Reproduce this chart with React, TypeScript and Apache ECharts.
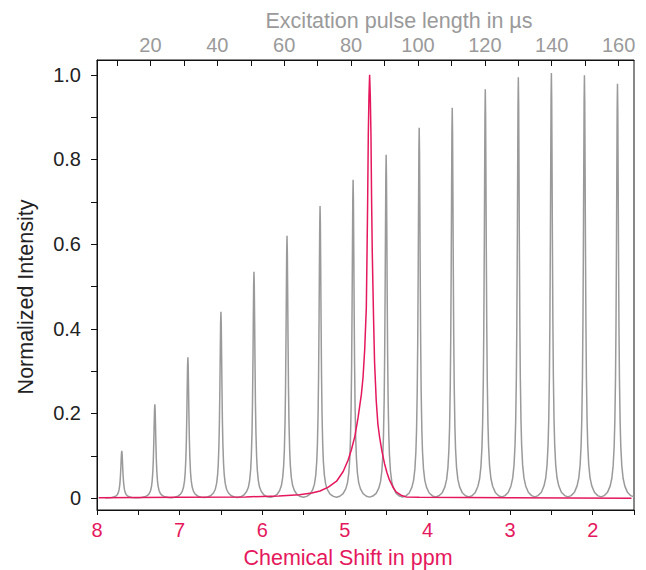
import React, { useEffect, useRef } from "react";
import * as echarts from "echarts";

// ---- data ----
// gray spectra (one peak per excitation pulse length, 10 … 160 µs)
const GRAY_PEAK_PPM = [7.7, 7.3, 6.9, 6.5, 6.1, 5.7, 5.3, 4.9, 4.5, 4.1, 3.7, 3.3, 2.9, 2.5, 2.1, 1.7];
const GRAY_PEAK_HEIGHT = [0.112, 0.222, 0.333, 0.44, 0.535, 0.62, 0.69, 0.752, 0.811, 0.875, 0.922, 0.966, 0.994, 1.004, 0.999, 0.979];
// line shape of one gray peak (offset from centre in ppm, fraction of peak height)
const SHAPE_OFFSET = [0, 0.004, 0.008, 0.012, 0.018, 0.024, 0.032, 0.04, 0.052, 0.068, 0.089, 0.121, 0.161, 0.2];
const SHAPE_LEVEL = [1, 0.935, 0.783, 0.616, 0.416, 0.286, 0.184, 0.126, 0.079, 0.048, 0.029, 0.014, 0.006, 0.003];

// pink reference spectrum
const PINK_PPM = [7.98, 7.0, 6.2, 5.8, 5.55, 5.4, 5.3, 5.2, 5.1, 5.02, 4.96, 4.92, 4.88, 4.84, 4.8, 4.78, 4.76, 4.74, 4.732, 4.724, 4.716, 4.708, 4.7, 4.692, 4.684, 4.676, 4.668, 4.66, 4.652, 4.64, 4.62, 4.6, 4.58, 4.55, 4.52, 4.49, 4.46, 4.42, 4.38, 4.32, 4.26, 4.1, 3.0, 1.53];
const PINK_INT = [0.001, 0.002, 0.003, 0.005, 0.008, 0.012, 0.017, 0.026, 0.04, 0.063, 0.09, 0.115, 0.145, 0.19, 0.245, 0.285, 0.35, 0.45, 0.57, 0.7, 0.86, 0.95, 1.0, 0.95, 0.86, 0.7, 0.58, 0.5, 0.42, 0.32, 0.23, 0.175, 0.145, 0.11, 0.082, 0.06, 0.043, 0.027, 0.015, 0.007, 0.003, 0.002, 0.001, 0.0];

// ticks / labels
const PPM_LABELS = [2, 3, 4, 5, 6, 7, 8];
const US_TICKS = [10, 20, 30, 40, 50, 60, 70, 80, 90, 100, 110, 120, 130, 140, 150, 160];
const US_LABELS = [20, 40, 60, 80, 100, 120, 140, 160];
const Y_TICKS = [0, 0.1, 0.2, 0.3, 0.4, 0.5, 0.6, 0.7, 0.8, 0.9, 1.0];
const Y_LABELS = [0, 0.2, 0.4, 0.6, 0.8, 1.0];

const PINK = "#e5185d";
const GRAY = "#9a9a9a";
const FONT = '"Liberation Sans", Arial, sans-serif';

function buildGray(): number[][] {
  const pts: number[][] = [];
  const order = GRAY_PEAK_PPM.map((_, i) => i).sort((a, b) => GRAY_PEAK_PPM[a] - GRAY_PEAK_PPM[b]);
  for (const i of order) {
    const c = GRAY_PEAK_PPM[i];
    const h = GRAY_PEAK_HEIGHT[i];
    for (let k = SHAPE_OFFSET.length - 1; k >= 1; k--) pts.push([c - SHAPE_OFFSET[k], h * SHAPE_LEVEL[k]]);
    pts.push([c, h]);
    for (let k = 1; k < SHAPE_OFFSET.length; k++) pts.push([c + SHAPE_OFFSET[k], h * SHAPE_LEVEL[k]]);
  }
  return pts;
}

export default function App() {
  const ref = useRef<HTMLDivElement>(null);
  useEffect(() => {
    if (!ref.current) return;
    const chart = echarts.init(ref.current, null, { renderer: "svg" });
    const pink = PINK_PPM.map((p, i) => [p, PINK_INT[i]]);
    chart.setOption({
      animation: false,
      backgroundColor: "#ffffff",
      grid: { left: 97, right: 12, top: 60, bottom: 60, show: true, borderColor: "#111", borderWidth: 1, backgroundColor: "transparent" },
      xAxis: [
        {
          type: "value",
          position: "bottom",
          inverse: true,
          min: 1.5,
          max: 8,
          interval: 0.5,
          axisLine: { show: true, onZero: false, lineStyle: { color: "#111", width: 1 } },
          axisTick: { show: true, inside: false, length: 5, lineStyle: { color: "#111", width: 1 } },
          axisLabel: { customValues: PPM_LABELS, color: PINK, fontSize: 20, fontFamily: FONT, margin: 10 },
          splitLine: { show: false },
        },
        {
          type: "value",
          position: "top",
          min: 4,
          max: 164.6,
          axisLine: { show: true, onZero: false, lineStyle: { color: "#111", width: 1 } },
          axisTick: { show: true, inside: true, length: 6, customValues: US_TICKS, lineStyle: { color: "#111", width: 1 } },
          axisLabel: { customValues: US_LABELS, color: GRAY, fontSize: 20, fontFamily: FONT, margin: 5 },
          splitLine: { show: false },
        },
      ],
      yAxis: {
        type: "value",
        min: -0.028,
        max: 1.035,
        axisLine: { show: true, onZero: false, lineStyle: { color: "#111", width: 1 } },
        axisTick: { show: true, inside: false, length: 6, customValues: Y_TICKS, lineStyle: { color: "#111", width: 1 } },
        axisLabel: {
          customValues: Y_LABELS,
          color: "#222",
          fontSize: 20,
          fontFamily: FONT,
          margin: 16,
          formatter: (v: number) => (Math.abs(v) < 1e-9 ? "0" : v.toFixed(1)),
        },
        splitLine: { show: false },
      },
      series: [
        {
          type: "line",
          xAxisIndex: 0,
          data: buildGray(),
          showSymbol: false,
          symbol: "none",
          lineStyle: { color: GRAY, width: 1.5 },
          z: 2,
        },
        {
          type: "line",
          xAxisIndex: 0,
          data: pink,
          showSymbol: false,
          symbol: "none",
          lineStyle: { color: PINK, width: 1.5 },
          z: 3,
        },
      ],
      graphic: [
        {
          type: "text",
          x: 348,
          y: 557.7,
          style: { text: "Chemical Shift in ppm", fill: PINK, font: `21.5px ${FONT}`, align: "center", verticalAlign: "middle" },
        },
        {
          type: "text",
          x: 399,
          y: 20.5,
          style: { text: "Excitation pulse length in µs", fill: GRAY, font: `21.5px ${FONT}`, align: "center", verticalAlign: "middle" },
        },
        {
          type: "text",
          x: 25.5,
          y: 297,
          rotation: Math.PI / 2,
          style: { text: "Normalized Intensity", fill: "#222", font: `21.5px ${FONT}`, align: "center", verticalAlign: "middle" },
        },
      ],
    });
    return () => chart.dispose();
  }, []);
  return <div ref={ref} style={{ position: "fixed", left: 0, top: 0, width: 646, height: 570, background: "#fff" }} />;
}
